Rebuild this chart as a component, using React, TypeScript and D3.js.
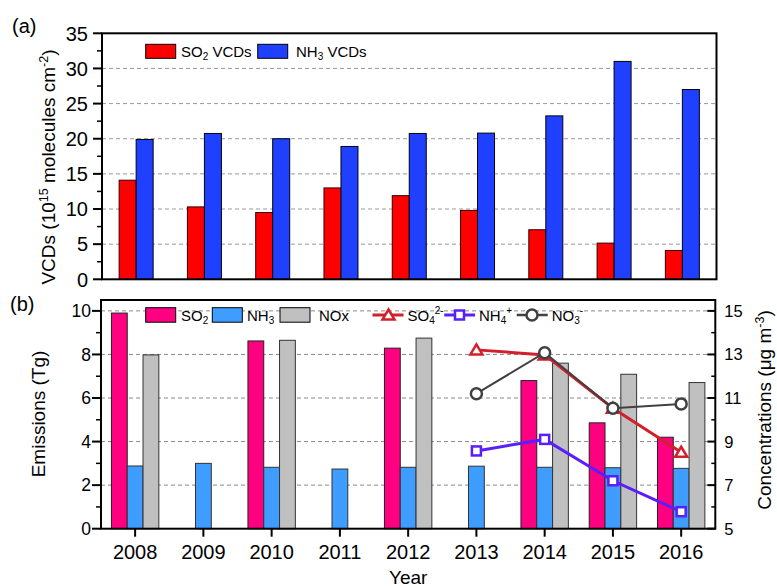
import React from 'react';
import * as d3 from 'd3';

const years = ['2008', '2009', '2010', '2011', '2012', '2013', '2014', '2015', '2016'];
const so2Vcd = [14.1, 10.3, 9.5, 13.0, 11.9, 9.8, 7.05, 5.15, 4.1];
const nh3Vcd = [19.9, 20.75, 20.0, 18.9, 20.75, 20.8, 23.25, 31.0, 27.0];
const so2Emis: (number | null)[] = [9.9, null, 8.62, null, 8.29, null, 6.8, 4.86, 4.2];
const nh3Emis = [2.88, 3.0, 2.82, 2.74, 2.82, 2.87, 2.82, 2.8, 2.77];
const noxEmis: (number | null)[] = [7.98, null, 8.65, null, 8.75, null, 7.6, 7.09, 6.71];
const lineYears = ['2013', '2014', '2015', '2016'];
const so4Conc = [13.21, 12.98, 10.53, 8.51];
const nh4Conc = [8.57, 9.1, 7.2, 5.78];
const no3Conc = [11.2, 13.08, 10.53, 10.73];

const topTicks = [0, 5, 10, 15, 20, 25, 30, 35];
const leftTicksB = [0, 2, 4, 6, 8, 10];
const rightTicksB = [5, 7, 9, 11, 13, 15];

const FONT = '"Liberation Sans", Arial, Helvetica, sans-serif';
const C_RED = '#FF0000';
const C_BLUE = '#2040FF';
const C_PINK = '#FF0080';
const C_LBLUE = '#3F9DFF';
const C_GRAY = '#C0C0C0';
const C_SO4 = '#D2202C';
const C_NH4 = '#5A1EFA';
const C_NO3 = '#404040';

export default function App() {
  // top panel
  const tL = 102, tR = 716.5, tT = 33.3, tB = 279.3;
  const xT = d3.scaleBand<string>().domain(years).range([tL, tR]).padding(0);
  const yT = d3.scaleLinear().domain([0, 35]).range([tB, tT]);
  const bwT = 17;

  // bottom panel
  const bL = 101, bR = 715.3, bT = 300, bB = 528.7;
  const xB = d3.scaleBand<string>().domain(years).range([bL, bR]).padding(0);
  const yB = d3.scaleLinear().domain([0, 10.5]).range([bB, bT]);
  const yR = d3.scaleLinear().domain([5, 15.5]).range([bB, bT]);
  const bwB = 15.8;

  const cT = (y: string) => (xT(y) as number) + xT.bandwidth() / 2;
  const cB = (y: string) => (xB(y) as number) + xB.bandwidth() / 2;

  const lineGen = d3.line<[number, number]>().x(d => d[0]).y(d => d[1]);

  const series = [
    { vals: so4Conc, color: C_SO4, w: 3, marker: 'tri' },
    { vals: nh4Conc, color: C_NH4, w: 3, marker: 'sq' },
    { vals: no3Conc, color: C_NO3, w: 2, marker: 'circ' },
  ];

  const marker = (type: string, x: number, y: number, color: string, key: string) => {
    if (type === 'tri') {
      const p = d3.path();
      p.moveTo(x, y - 5.5); p.lineTo(x + 6, y + 4.5); p.lineTo(x - 6, y + 4.5); p.closePath();
      return <path key={key} d={p.toString()} fill="#fff" stroke={color} strokeWidth={2.5} strokeLinejoin="miter" />;
    }
    if (type === 'sq') {
      return <rect key={key} x={x - 4.5} y={y - 4.5} width={9} height={9} fill="#fff" stroke={color} strokeWidth={2.5} />;
    }
    return <circle key={key} cx={x} cy={y} r={5.5} fill="#fff" stroke={color} strokeWidth={2.5} />;
  };

  const minorTop = d3.range(2.5, 35, 5);
  const minorLeftB = d3.range(1, 10.5, 2);
  const minorRightB = d3.range(6, 15.5, 2);

  return (
    <svg width={777} height={587} style={{ position: 'absolute', left: 0, top: 0, background: '#fff' }} fontFamily={FONT}>
      <rect x={0} y={0} width={777} height={587} fill="#fff" />
      {/* ===== TOP PANEL ===== */}
      {topTicks.filter(t => t > 0 && t < 35).map(t => (
        <line key={'gt' + t} x1={tL} x2={tR} y1={yT(t)} y2={yT(t)} stroke="#9a9a9a" strokeWidth={1} strokeDasharray="4,3" />
      ))}
      {years.map((y, i) => (
        <g key={'bt' + y}>
          <rect x={cT(y) - bwT} y={yT(so2Vcd[i])} width={bwT} height={tB - yT(so2Vcd[i])} fill={C_RED} stroke="#300" strokeWidth={1} />
          <rect x={cT(y)} y={yT(nh3Vcd[i])} width={bwT} height={tB - yT(nh3Vcd[i])} fill={C_BLUE} stroke="#001" strokeWidth={1} />
        </g>
      ))}
      <rect x={tL} y={tT} width={tR - tL} height={tB - tT} fill="none" stroke="#000" strokeWidth={2} />
      {topTicks.map(t => (
        <g key={'tt' + t}>
          <line x1={tL - 9} x2={tL} y1={yT(t)} y2={yT(t)} stroke="#000" strokeWidth={2} />
          <text x={tL - 14} y={yT(t)} dy="0.36em" textAnchor="end" fontSize={20}>{t}</text>
        </g>
      ))}
      {minorTop.map(t => (
        <line key={'mt' + t} x1={tL - 5} x2={tL} y1={yT(t)} y2={yT(t)} stroke="#000" strokeWidth={1.5} />
      ))}
      <text x={12} y={33} fontSize={20}>(a)</text>
      <text transform={`translate(55,167) rotate(-90)`} textAnchor="middle" fontSize={19}>
        VCDs (10<tspan dy={-7} fontSize={12.5}>15</tspan><tspan dy={7}> molecules cm</tspan><tspan dy={-7} fontSize={12.5}>-2</tspan><tspan dy={7}>)</tspan>
      </text>
      {/* top legend */}
      <rect x={145.7} y={44.3} width={30} height={14} fill={C_RED} stroke="#000" strokeWidth={1} />
      <text x={181} y={57} fontSize={15}>SO<tspan dy={3} fontSize={10}>2</tspan><tspan dy={-3}> VCDs</tspan></text>
      <rect x={257.7} y={44.3} width={30} height={14} fill={C_BLUE} stroke="#000" strokeWidth={1} />
      <text x={296} y={57} fontSize={15}>NH<tspan dy={3} fontSize={10}>3</tspan><tspan dy={-3}> VCDs</tspan></text>

      {/* ===== BOTTOM PANEL ===== */}
      {leftTicksB.filter(t => t > 0).map(t => (
        <line key={'gb' + t} x1={bL} x2={bR} y1={yB(t)} y2={yB(t)} stroke="#8a8a8a" strokeWidth={1} strokeDasharray="4,3" />
      ))}
      {years.map((y, i) => {
        const c = cB(y);
        const s = so2Emis[i];
        const n = noxEmis[i];
        return (
          <g key={'bb' + y}>
            {s != null && <rect x={c - bwB * 1.5} y={yB(s)} width={bwB} height={bB - yB(s)} fill={C_PINK} stroke="#222" strokeWidth={1} />}
            <rect x={c - bwB / 2} y={yB(nh3Emis[i])} width={bwB} height={bB - yB(nh3Emis[i])} fill={C_LBLUE} stroke="#333" strokeWidth={1} />
            {n != null && <rect x={c + bwB / 2} y={yB(n)} width={bwB} height={bB - yB(n)} fill={C_GRAY} stroke="#333" strokeWidth={1} />}
          </g>
        );
      })}
      {/* lines */}
      {series.map((s, si) => (
        <g key={'ls' + si}>
          <path d={lineGen(lineYears.map((y, i) => [cB(y), yR(s.vals[i])]) as [number, number][]) || ''} fill="none" stroke={s.color} strokeWidth={s.w} />
          {lineYears.map((y, i) => marker(s.marker, cB(y), yR(s.vals[i]), s.color, 'm' + si + i))}
        </g>
      ))}
      <rect x={bL} y={bT} width={bR - bL} height={bB - bT} fill="none" stroke="#000" strokeWidth={2} />
      {leftTicksB.map(t => (
        <g key={'lb' + t}>
          <line x1={bL - 9} x2={bL} y1={yB(t)} y2={yB(t)} stroke="#000" strokeWidth={2} />
          <text x={bL - 10} y={yB(t)} dy="0.36em" textAnchor="end" fontSize={17.5}>{t}</text>
        </g>
      ))}
      {minorLeftB.map(t => (
        <line key={'mlb' + t} x1={bL - 5} x2={bL} y1={yB(t)} y2={yB(t)} stroke="#000" strokeWidth={1.5} />
      ))}
      {rightTicksB.map(t => (
        <g key={'rb' + t}>
          <line x1={bR - 8} x2={bR} y1={yR(t)} y2={yR(t)} stroke="#000" strokeWidth={2} />
          <text x={bR + 9} y={yR(t)} dy="0.36em" textAnchor="start" fontSize={16.5}>{t}</text>
        </g>
      ))}
      {minorRightB.map(t => (
        <line key={'mrb' + t} x1={bR - 4} x2={bR} y1={yR(t)} y2={yR(t)} stroke="#000" strokeWidth={1.5} />
      ))}
      {years.map(y => (
        <g key={'xb' + y}>
          <line x1={cB(y)} x2={cB(y)} y1={bB} y2={bB + 8} stroke="#000" strokeWidth={2} />
          <text x={cB(y)} y={559} textAnchor="middle" fontSize={20}>{y}</text>
        </g>
      ))}
      <text x={(bL + bR) / 2} y={584} textAnchor="middle" fontSize={19}>Year</text>
      <text x={10} y={311} fontSize={20}>(b)</text>
      <text transform={`translate(45,414) rotate(-90)`} textAnchor="middle" fontSize={19}>Emissions (Tg)</text>
      <text transform={`translate(771,410) rotate(-90)`} textAnchor="middle" fontSize={19}>
        Concentrations (μg m<tspan dy={-7} fontSize={12.5}>-3</tspan><tspan dy={7}>)</tspan>
      </text>
      {/* bottom legend */}
      <rect x={145.7} y={307.7} width={30} height={14.5} fill={C_PINK} stroke="#000" strokeWidth={1} />
      <text x={181} y={321} fontSize={15}>SO<tspan dy={3} fontSize={10}>2</tspan></text>
      <rect x={212.3} y={307.7} width={30} height={14.5} fill={C_LBLUE} stroke="#000" strokeWidth={1} />
      <text x={247} y={321} fontSize={15}>NH<tspan dy={3} fontSize={10}>3</tspan></text>
      <rect x={280} y={307.7} width={30} height={14.5} fill={C_GRAY} stroke="#000" strokeWidth={1} />
      <text x={319} y={321} fontSize={15}>NOx</text>

      <line x1={372.5} x2={403.5} y1={315} y2={315} stroke={C_SO4} strokeWidth={3} />
      {marker('tri', 388.5, 315, C_SO4, 'lg1')}
      <text x={407.5} y={321} fontSize={15}>SO<tspan dy={3} fontSize={10}>4</tspan><tspan dy={-10} fontSize={10}>2-</tspan></text>
      <line x1={444.3} x2={475} y1={315} y2={315} stroke={C_NH4} strokeWidth={3} />
      {marker('sq', 459.5, 315, C_NH4, 'lg2')}
      <text x={479} y={321} fontSize={15}>NH<tspan dy={3} fontSize={10}>4</tspan><tspan dy={-10} fontSize={10}>+</tspan></text>
      <line x1={516.7} x2={547.7} y1={315} y2={315} stroke={C_NO3} strokeWidth={2.5} />
      {marker('circ', 532, 315, C_NO3, 'lg3')}
      <text x={551.7} y={321} fontSize={15}>NO<tspan dy={3} fontSize={10}>3</tspan><tspan dy={-10} fontSize={10}>-</tspan></text>
    </svg>
  );
}
